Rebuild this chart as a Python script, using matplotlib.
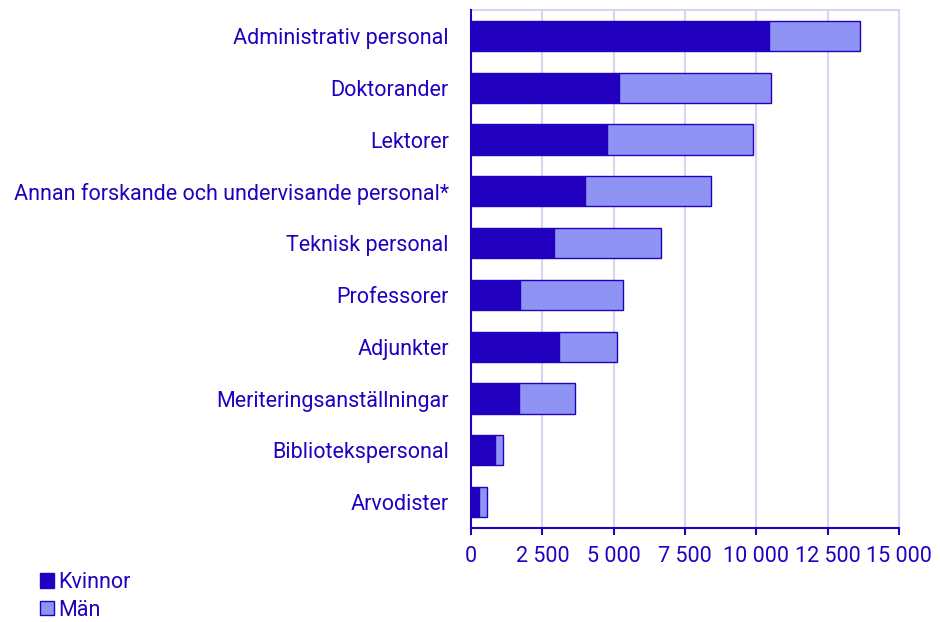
import matplotlib.pyplot as plt
import matplotlib.patches as mpatches

plt.rcParams['font.family'] = ['Roboto', 'DejaVu Sans']

categories = ['Administrativ personal', 'Doktorander', 'Lektorer',
              'Annan forskande och undervisande personal*', 'Teknisk personal',
              'Professorer', 'Adjunkter', 'Meriteringsanställningar',
              'Bibliotekspersonal', 'Arvodister']
kvinnor = [10440, 5180, 4750, 4010, 2900, 1700, 3100, 1670, 830, 290]
man = [3185, 5330, 5120, 4400, 3770, 3630, 2030, 1970, 305, 255]
xticks = [0, 2500, 5000, 7500, 10000, 12500, 15000]
xticklabels = ['0', '2 500', '5 000', '7 500', '10 000', '12 500', '15 000']

dark = '#2200C0'
light = '#8F93F3'
grid = '#D6D6F2'

fig = plt.figure(figsize=(9.4, 6.22), dpi=100)
ax = fig.add_axes([471 / 940, 1 - 528 / 622, 428 / 940, 518 / 622])

y = list(range(len(categories)))
ax.barh(y, kvinnor, height=0.58, color=dark, edgecolor=dark, linewidth=1, zorder=3)
ax.barh(y, man, left=kvinnor, height=0.58, color=light, edgecolor=dark, linewidth=1, zorder=3)

ax.set_ylim(len(categories) - 0.5, -0.5)
ax.set_xlim(0, 15000)
ax.set_yticks(y)
ax.set_yticklabels(categories, fontsize=15.5, color=dark)
ax.tick_params(axis='y', length=0, pad=16)
ax.set_xticks(xticks)
ax.set_xticklabels(xticklabels, fontsize=15.5, color=dark)
ax.tick_params(axis='x', length=5, width=1.5, color=dark, pad=8)

ax.grid(axis='x', color=grid, linewidth=1.5, zorder=0)
for s in ['top', 'right']:
    ax.spines[s].set_color(grid)
    ax.spines[s].set_linewidth(1.5)
for s in ['left', 'bottom']:
    ax.spines[s].set_color(dark)
    ax.spines[s].set_linewidth(1.5)
    ax.spines[s].set_zorder(4)

handles = [mpatches.Patch(facecolor=dark, edgecolor=dark, label='Kvinnor'),
           mpatches.Patch(facecolor=light, edgecolor=dark, label='Män')]
leg = fig.legend(handles=handles, loc='lower left', bbox_to_anchor=(0.027, -0.022),
                 frameon=False, fontsize=15.5, handlelength=0.65, handleheight=0.65,
                 handletextpad=0.2, labelspacing=0.3, borderpad=0.2)
for t in leg.get_texts():
    t.set_color(dark)

plt.savefig('out.png', dpi=100)
